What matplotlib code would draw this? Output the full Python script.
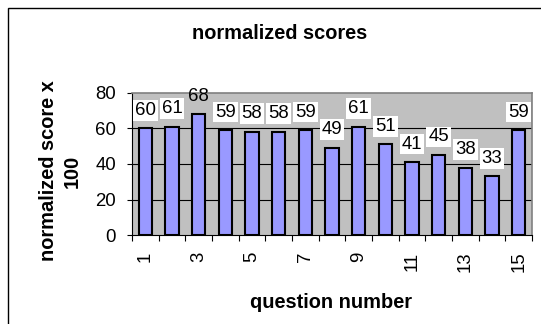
import matplotlib.pyplot as plt
import matplotlib.patches as patches
import numpy as np

plt.rcParams['font.family'] = ['Liberation Sans', 'DejaVu Sans']

questions = list(range(1, 16))
scores = [60, 61, 68, 59, 58, 58, 59, 49, 61, 51, 41, 45, 38, 33, 59]
tick_labels = [str(q) if q % 2 == 1 else '' for q in questions]

W, H = 541, 324
fig = plt.figure(figsize=(W / 100, H / 100), dpi=100)
ax = fig.add_axes([132 / W, 1 - 235 / H, 400 / W, 142 / H])

ax.set_facecolor('#C0C0C0')
ax.bar(questions, scores, width=0.5, color='#9999FF', edgecolor='black',
       linewidth=1.5, zorder=3)

ax.set_xlim(0.5, 15.5)
ax.set_ylim(0, 80)
ax.set_yticks([0, 20, 40, 60, 80])
for y in [20, 40, 60]:
    ax.axhline(y, color='black', lw=0.8, zorder=2)

ax.set_xticks(questions)
ax.set_xticklabels(tick_labels, rotation=90, fontsize=13.4)
ax.set_xticks(np.arange(0.5, 16, 1), minor=True)
ax.tick_params(axis='x', which='major', length=0, pad=12)
ax.tick_params(axis='x', which='minor', length=4.3, width=0.8, direction='out')
ax.tick_params(axis='y', length=3.6, width=0.8, pad=8, labelsize=13.4)

for s in ['top', 'right']:
    ax.spines[s].set_color('#808080')
    ax.spines[s].set_linewidth(1.2)
for s in ['left', 'bottom']:
    ax.spines[s].set_color('black')
    ax.spines[s].set_linewidth(0.8)

top = max(scores)
for q, v in zip(questions, scores):
    box = None if v == top else dict(boxstyle='square,pad=0.1', fc='white', ec='none')
    ax.annotate(str(v), (q, v), xytext=(0, 7), textcoords='offset points',
                ha='center', va='bottom', fontsize=13.4, bbox=box,
                zorder=4, annotation_clip=False)

fig.text(279.5 / W, 1 - 33.8 / H, 'normalized scores', ha='center', va='center',
         fontsize=14.4, fontweight='bold')
fig.text(331 / W, 1 - 303 / H, 'question number', ha='center', va='center',
         fontsize=14.4, fontweight='bold')
fig.text(60.5 / W, 1 - 171 / H, 'normalized score x\n100', ha='center', va='center',
         rotation=90, multialignment='center', linespacing=1.3,
         fontsize=14.4, fontweight='bold')

fig.patches.append(patches.Rectangle((8.3 / W, -0.2), 2, 1.2 - 8.3 / H,
                                     transform=fig.transFigure, fill=False,
                                     ec='black', lw=1.0))

fig.savefig('out.png', dpi=100)
